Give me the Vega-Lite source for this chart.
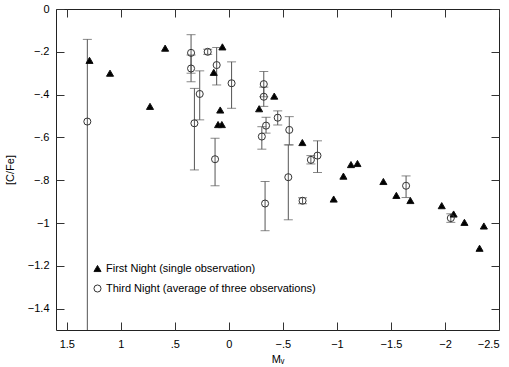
{
  "$schema": "https://vega.github.io/schema/vega-lite/v6.json",
  "width": 443,
  "height": 321,
  "autosize": {"type": "none"},
  "padding": {"left": 56, "top": 9, "right": 10, "bottom": 37},
  "background": "white",
  "config": {
    "view": {"stroke": "#222", "strokeWidth": 1},
    "axis": {"domain": false, "ticks": false, "grid": true, "gridColor": "#333", "gridOpacity": 1, "gridWidth": 1, "labelFont": "Liberation Sans", "labelFontSize": 11, "labelColor": "#000", "titleFont": "Liberation Sans", "titleFontSize": 11, "titleFontWeight": "normal", "titleColor": "#000"},
    "legend": {"labelFont": "Liberation Sans", "labelFontSize": 11, "labelColor": "#000", "labelLimit": 400}
  },
  "data": {"values": [
    {"mv": 1.29, "cfe": -0.24, "night": "First Night (single observation)"},
    {"mv": 1.10, "cfe": -0.30, "night": "First Night (single observation)"},
    {"mv": 0.73, "cfe": -0.455, "night": "First Night (single observation)"},
    {"mv": 0.59, "cfe": -0.183, "night": "First Night (single observation)"},
    {"mv": 0.06, "cfe": -0.177, "night": "First Night (single observation)"},
    {"mv": 0.14, "cfe": -0.296, "night": "First Night (single observation)"},
    {"mv": 0.08, "cfe": -0.472, "night": "First Night (single observation)"},
    {"mv": 0.10, "cfe": -0.54, "night": "First Night (single observation)"},
    {"mv": 0.065, "cfe": -0.54, "night": "First Night (single observation)"},
    {"mv": -0.28, "cfe": -0.466, "night": "First Night (single observation)"},
    {"mv": -0.42, "cfe": -0.407, "night": "First Night (single observation)"},
    {"mv": -0.68, "cfe": -0.624, "night": "First Night (single observation)"},
    {"mv": -0.97, "cfe": -0.888, "night": "First Night (single observation)"},
    {"mv": -1.06, "cfe": -0.781, "night": "First Night (single observation)"},
    {"mv": -1.13, "cfe": -0.727, "night": "First Night (single observation)"},
    {"mv": -1.19, "cfe": -0.722, "night": "First Night (single observation)"},
    {"mv": -1.43, "cfe": -0.806, "night": "First Night (single observation)"},
    {"mv": -1.55, "cfe": -0.871, "night": "First Night (single observation)"},
    {"mv": -1.68, "cfe": -0.895, "night": "First Night (single observation)"},
    {"mv": -1.97, "cfe": -0.919, "night": "First Night (single observation)"},
    {"mv": -2.08, "cfe": -0.958, "night": "First Night (single observation)"},
    {"mv": -2.18, "cfe": -0.997, "night": "First Night (single observation)"},
    {"mv": -2.36, "cfe": -1.014, "night": "First Night (single observation)"},
    {"mv": -2.32, "cfe": -1.118, "night": "First Night (single observation)"},
    {"mv": 1.31, "cfe": -0.526, "lo": -1.6, "hi": -0.142, "night": "Third Night (average of three observations)"},
    {"mv": 0.35, "cfe": -0.205, "lo": -0.30, "hi": -0.12, "night": "Third Night (average of three observations)"},
    {"mv": 0.35, "cfe": -0.278, "lo": -0.34, "hi": -0.215, "night": "Third Night (average of three observations)"},
    {"mv": 0.196, "cfe": -0.200, "lo": -0.212, "hi": -0.188, "night": "Third Night (average of three observations)"},
    {"mv": 0.113, "cfe": -0.262, "lo": -0.355, "hi": -0.18, "night": "Third Night (average of three observations)"},
    {"mv": -0.025, "cfe": -0.347, "lo": -0.464, "hi": -0.247, "night": "Third Night (average of three observations)"},
    {"mv": 0.27, "cfe": -0.397, "lo": -0.518, "hi": -0.289, "night": "Third Night (average of three observations)"},
    {"mv": 0.319, "cfe": -0.534, "lo": -0.752, "hi": -0.371, "night": "Third Night (average of three observations)"},
    {"mv": 0.128, "cfe": -0.702, "lo": -0.826, "hi": -0.604, "night": "Third Night (average of three observations)"},
    {"mv": -0.323, "cfe": -0.351, "lo": -0.41, "hi": -0.292, "night": "Third Night (average of three observations)"},
    {"mv": -0.323, "cfe": -0.41, "lo": -0.455, "hi": -0.365, "night": "Third Night (average of three observations)"},
    {"mv": -0.305, "cfe": -0.596, "lo": -0.655, "hi": -0.55, "night": "Third Night (average of three observations)"},
    {"mv": -0.344, "cfe": -0.545, "lo": -0.58, "hi": -0.506, "night": "Third Night (average of three observations)"},
    {"mv": -0.452, "cfe": -0.508, "lo": -0.542, "hi": -0.476, "night": "Third Night (average of three observations)"},
    {"mv": -0.559, "cfe": -0.565, "lo": -0.635, "hi": -0.503, "night": "Third Night (average of three observations)"},
    {"mv": -0.55, "cfe": -0.786, "lo": -0.985, "hi": -0.635, "night": "Third Night (average of three observations)"},
    {"mv": -0.759, "cfe": -0.705, "lo": -0.724, "hi": -0.685, "night": "Third Night (average of three observations)"},
    {"mv": -0.82, "cfe": -0.685, "lo": -0.764, "hi": -0.616, "night": "Third Night (average of three observations)"},
    {"mv": -0.682, "cfe": -0.896, "lo": -0.91, "hi": -0.882, "night": "Third Night (average of three observations)"},
    {"mv": -0.335, "cfe": -0.909, "lo": -1.036, "hi": -0.806, "night": "Third Night (average of three observations)"},
    {"mv": -1.64, "cfe": -0.826, "lo": -0.881, "hi": -0.78, "night": "Third Night (average of three observations)"},
    {"mv": -2.054, "cfe": -0.977, "lo": -0.997, "hi": -0.957, "night": "Third Night (average of three observations)"}
  ]},
  "layer": [
    {
      "transform": [{"filter": "isValid(datum.lo)"}],
      "mark": {"type": "rule", "color": "#555", "strokeWidth": 1, "clip": true},
      "encoding": {
        "x": {"field": "mv", "type": "quantitative", "scale": {"domain": [-2.5, 1.6], "reverse": true, "nice": false, "zero": false},
          "axis": {"orient": "bottom", "values": [-2.5, -2, -1.5, -1, -0.5, 0, 0.5, 1, 1.5], "gridDash": [8, 305, 8, 1000], "labelPadding": 8, "labelExpr": "replace(format(datum.value, '~g'), '0.', '.')", "title": "Mᵥ", "titlePadding": 4}},
        "y": {"field": "lo", "type": "quantitative", "scale": {"domain": [-1.5, 0], "nice": false, "zero": false},
          "axis": {"orient": "left", "values": [0, -0.2, -0.4, -0.6, -0.8, -1, -1.2, -1.4], "gridDash": [8, 427, 8, 1000], "labelPadding": 7, "labelExpr": "replace(format(datum.value, '~g'), '0.', '.')", "title": "[C/Fe]", "titlePadding": 12}},
        "y2": {"field": "hi"}
      }
    },
    {
      "transform": [{"filter": "isValid(datum.lo)"}],
      "mark": {"type": "tick", "orient": "horizontal", "size": 9, "thickness": 1, "color": "#555", "clip": true},
      "encoding": {
        "x": {"field": "mv", "type": "quantitative", "scale": {"domain": [-2.5, 1.6], "reverse": true, "nice": false, "zero": false},
          "axis": {"orient": "bottom", "values": [-2.5, -2.4, -2.3, -2.2, -2.1, -2, -1.9, -1.8, -1.7, -1.6, -1.5, -1.4, -1.3, -1.2, -1.1, -1, -0.9, -0.8, -0.7, -0.6, -0.5, -0.4, -0.3, -0.2, -0.1, 0, 0.1, 0.2, 0.3, 0.4, 0.5, 0.6, 0.7, 0.8, 0.9, 1, 1.1, 1.2, 1.3, 1.4, 1.5, 1.6], "gridDash": [4, 313, 4, 1000], "labels": false, "title": null}},
        "y": {"field": "lo", "type": "quantitative", "scale": {"domain": [-1.5, 0], "nice": false, "zero": false},
          "axis": {"orient": "left", "values": [0, -0.05, -0.1, -0.15, -0.2, -0.25, -0.3, -0.35, -0.4, -0.45, -0.5, -0.55, -0.6, -0.65, -0.7, -0.75, -0.8, -0.85, -0.9, -0.95, -1, -1.05, -1.1, -1.15, -1.2, -1.25, -1.3, -1.35, -1.4, -1.45, -1.5], "gridDash": [4, 435, 4, 1000], "labels": false, "title": null}}
      }
    },
    {
      "transform": [{"filter": "isValid(datum.hi)"}],
      "mark": {"type": "tick", "orient": "horizontal", "size": 9, "thickness": 1, "color": "#555", "clip": true},
      "encoding": {
        "x": {"field": "mv", "type": "quantitative", "scale": {"domain": [-2.5, 1.6], "reverse": true, "nice": false, "zero": false}, "axis": null},
        "y": {"field": "hi", "type": "quantitative", "scale": {"domain": [-1.5, 0], "nice": false, "zero": false}, "axis": null}
      }
    },
    {
      "mark": {"type": "point", "strokeWidth": 1, "opacity": 1, "size": 50},
      "encoding": {
        "x": {"field": "mv", "type": "quantitative", "scale": {"domain": [-2.5, 1.6], "reverse": true, "nice": false, "zero": false}, "axis": null},
        "y": {"field": "cfe", "type": "quantitative", "scale": {"domain": [-1.5, 0], "nice": false, "zero": false}, "axis": null},
        "shape": {"field": "night", "type": "nominal", "scale": {"domain": ["First Night (single observation)", "Third Night (average of three observations)"], "range": ["triangle-up", "circle"]},
          "legend": {"title": null, "orient": "none", "legendX": 36, "legendY": 254, "rowPadding": 8, "labelOffset": 3, "symbolSize": 50, "symbolStrokeWidth": 1}},
        "fill": {"field": "night", "type": "nominal", "scale": {"domain": ["First Night (single observation)", "Third Night (average of three observations)"], "range": ["#000", "transparent"]},
          "legend": {"title": null, "orient": "none", "legendX": 36, "legendY": 254, "rowPadding": 8, "labelOffset": 3, "symbolSize": 50, "symbolStrokeWidth": 1}},
        "stroke": {"field": "night", "type": "nominal", "scale": {"domain": ["First Night (single observation)", "Third Night (average of three observations)"], "range": ["#111", "#333"]},
          "legend": {"title": null, "orient": "none", "legendX": 36, "legendY": 254, "rowPadding": 8, "labelOffset": 3, "symbolSize": 50, "symbolStrokeWidth": 1}}
      }
    }
  ],
  "resolve": {"axis": {"x": "independent", "y": "independent"}}
}
